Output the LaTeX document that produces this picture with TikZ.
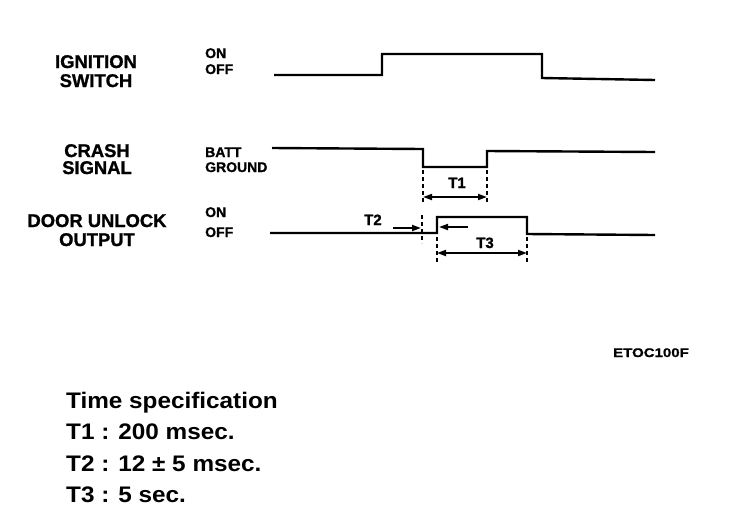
\documentclass[tikz,border=0pt]{standalone}
\usepackage{fontspec}
\setmainfont{Liberation Sans}
\newfontfamily\specfont[FakeStretch=1.08]{Liberation Sans Bold}
\newfontfamily\heavyfont[FakeBold=1.2]{Liberation Sans Bold}
\newfontfamily\codefont[FakeStretch=1.2,FakeBold=1]{Liberation Sans Bold}
\usetikzlibrary{arrows.meta}
\begin{document}
\begin{tikzpicture}[x=1pt,y=-1pt,
  sig/.style={line width=2.4pt,line join=miter},
  dim/.style={line width=1.3pt,dash pattern=on 4pt off 3pt},
  meas/.style={line width=1.8pt,-{Triangle[length=9pt,width=6pt]}},
  bimeas/.style={line width=1.8pt,{Triangle[length=9pt,width=6pt]}-{Triangle[length=9pt,width=6pt]}},
  lab/.style={anchor=base,inner sep=0pt,font=\heavyfont\fontsize{18.4}{19}\selectfont},
  state/.style={anchor=base west,inner sep=0pt,font=\heavyfont\fontsize{14}{14}\selectfont},
  tlab/.style={anchor=base,inner sep=0pt,font=\heavyfont\fontsize{15}{15}\selectfont},
  spec/.style={anchor=base west,inner sep=0pt,font=\specfont\fontsize{22.5}{23}\selectfont}]
\useasboundingbox (0,0) rectangle (736,528);
% signal names
\node[lab] (ign1) at (96,68) {IGNITION};
\node[lab] (ign2) at (96,87) {SWITCH};
\node[lab] (cr1) at (97,157) {CRASH};
\node[lab] (cr2) at (97,174) {SIGNAL};
\node[lab] (dr1) at (97,227) {DOOR UNLOCK};
\node[lab] (dr2) at (97,246) {OUTPUT};
% state names
\node[state] (s1) at (205,58) {ON};
\node[state] (s2) at (205,74) {OFF};
\node[state] (s3) at (205,157) {BATT};
\node[state] (s4) at (205,172) {GROUND};
\node[state] (s5) at (205,217) {ON};
\node[state] (s6) at (205,237) {OFF};
% waveforms
\draw[sig] (274,75) -- (382,75) -- (382,54) -- (542,54) -- (542,78) -- (655,80);
\draw[sig] (272,148) -- (423,149) -- (423,167) -- (487,167) -- (487,151) -- (655,152);
\draw[sig] (270,233) -- (437,233) -- (437,217) -- (527,217) -- (527,234) -- (655,235);
% T1
\coordinate (t1a) at (423,197);
\coordinate (t1b) at (487,197);
\draw[dim] (423,170) -- (423,202);
\draw[dim] (487,170) -- (487,202);
\draw[bimeas] (t1a) -- (t1b);
\node[tlab] (T1) at (457,188) {T1};
% T2
\node[tlab,anchor=base west] (T2) at (364,225) {T2};
\coordinate (t2a) at (393,228);
\coordinate (t2b) at (421,228);
\coordinate (t2c) at (468,227);
\coordinate (t2d) at (439,227);
\draw[dim] (422,215) -- (422,243);
\draw[meas] (t2a) -- (t2b);
\draw[meas] (t2c) -- (t2d);
% T3
\coordinate (t3a) at (437,253);
\coordinate (t3b) at (527,253);
\draw[dim] (437,237) -- (437,264);
\draw[dim] (527,237) -- (527,264);
\draw[bimeas] (t3a) -- (t3b);
\node[tlab] (T3) at (485,248) {T3};
% code
\node[anchor=base west,inner sep=0pt,font=\codefont\fontsize{12.5}{13}\selectfont] (code) at (613,357) {ETOC100F};
% specification
\node[spec] (sp0) at (66,408) {Time specification};
\node[spec] (sp1) at (66,439.5) {T1 : 200 msec.};
\node[spec] (sp2) at (66,471) {T2 : 12 ± 5 msec.};
\node[spec] (sp3) at (66,502) {T3 : 5 sec.};
\end{tikzpicture}
\end{document}
